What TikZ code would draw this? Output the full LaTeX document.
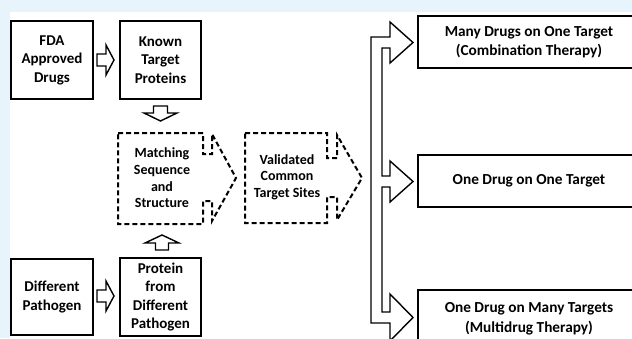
\documentclass[tikz,border=0pt]{standalone}
\usepackage{fontspec}
\setmainfont{Carlito}
\definecolor{bgblue}{RGB}{232,244,252}
\begin{document}
\begin{tikzpicture}[x=1pt,y=-1pt,
  box/.style={draw, line width=2pt, fill=white, align=center, inner sep=0pt,
    font=\bfseries\fontsize{15}{18.5}\selectfont},
  rbox/.style={draw, line width=2pt, fill=white, align=center, inner sep=0pt,
    minimum width=222pt, font=\bfseries\fontsize{15.3}{19.5}\selectfont},
  dtext/.style={align=center, inner sep=0pt, font=\bfseries\fontsize{14}{16.6}\selectfont},
  dashshape/.style={line width=2pt, dash pattern=on 5pt off 3pt, fill=white},
  hollow/.style={draw, line width=1.4pt, fill=white, line join=miter}]
\useasboundingbox (0,0) rectangle (632,338);
\clip (0,0) rectangle (632,338);
\fill[bgblue] (0,0) rectangle (632,338);
\fill[white] (10,12) rectangle (632,338);

% left boxes
\node[box, minimum width=82pt, minimum height=78pt] (fda) at (52,60) {FDA\\Approved\\Drugs};
\node[box, minimum width=81pt, minimum height=78pt] (known) at (160.5,60) {Known\\Target\\Proteins};
\node[box, minimum width=82pt, minimum height=76pt] (diff) at (52,297) {Different\\Pathogen};
\node[box, minimum width=81pt, minimum height=78pt] (prot) at (160.5,297) {Protein\\from\\Different\\Pathogen};

% small hollow arrows
\path[hollow] (97,54) -- (106,54) -- (106,45) -- (114,60) -- (106,75) -- (106,66) -- (97,66) -- cycle;
\path[hollow] (97,290) -- (106,290) -- (106,281) -- (114,296) -- (106,311) -- (106,302) -- (97,302) -- cycle;
\path[hollow] (153.5,106) -- (167.5,106) -- (167.5,113) -- (177,113) -- (160.5,121) -- (144,113) -- (153.5,113) -- cycle;
\path[hollow] (162,235) -- (179,243) -- (168.5,243) -- (168.5,250) -- (155.5,250) -- (155.5,243) -- (145,243) -- cycle;

% dashed arrow shapes
\draw[dashshape] (118,133) -- (203,133) -- (203,154) -- (212,154) -- (212,134) -- (236,178)
  -- (212,221) -- (212,201) -- (203,201) -- (203,224) -- (118,224) -- cycle;
\node[dtext] (match) at (162,178) {Matching\\Sequence\\and\\Structure};
\draw[dashshape] (245,133) -- (327,133) -- (327,158) -- (337,158) -- (337,135) -- (362,178)
  -- (337,220) -- (337,197) -- (327,197) -- (327,223) -- (245,223) -- cycle;
\node[dtext] (valid) at (287,177) {Validated\\Common\\Target Sites};

% branching hollow arrow
\path[hollow] (413,42.5) -- (390,22) -- (390,37) -- (371,37) -- (371,323) -- (390,323) -- (390,341)
  -- (413,317.5) -- (390,294) -- (390,312) -- (382,312) -- (382,187) -- (390,187) -- (390,202)
  -- (413,181.5) -- (390,161) -- (390,176) -- (382,176) -- (382,48) -- (390,48) -- (390,63) -- cycle;

% right boxes
\node[rbox, minimum height=52pt] (many) at (529,42) {Many Drugs on One Target\\(Combination Therapy)};
\node[rbox, minimum height=52pt] (one) at (529,181) {One Drug on One Target};
\node[rbox, minimum height=58pt] (multi) at (529,319) {One Drug on Many Targets\\(Multidrug Therapy)};
\end{tikzpicture}
\end{document}
